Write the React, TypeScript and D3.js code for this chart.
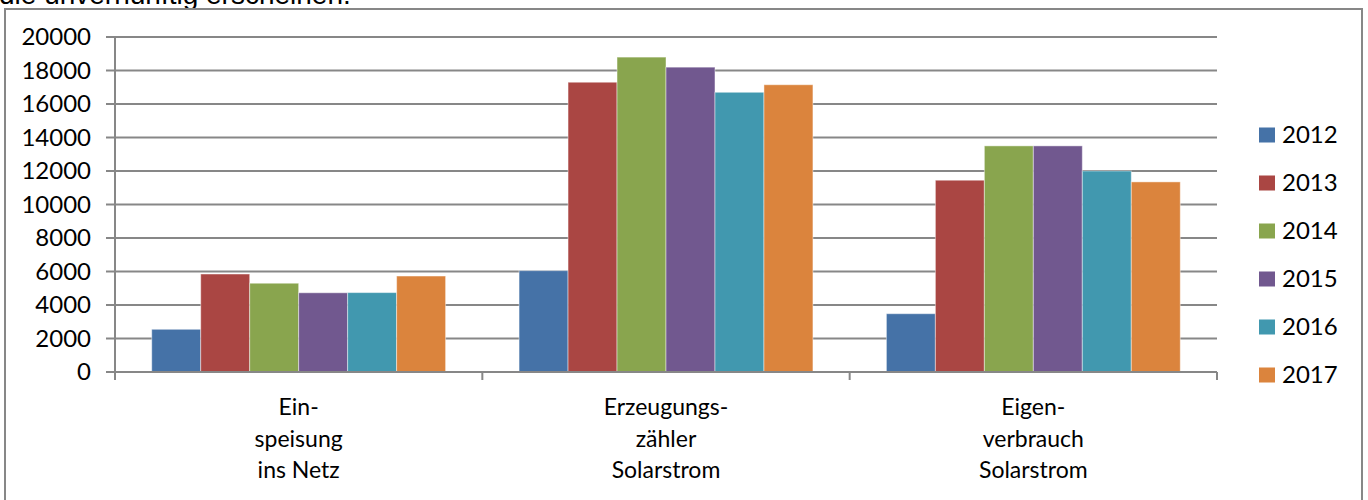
import React from "react";
import * as d3 from "d3";

// categories (multi-line labels as shown under the axis)
const categories = ["Einspeisung ins Netz", "Erzeugungszähler Solarstrom", "Eigenverbrauch Solarstrom"];
const categoryLines = [
  ["Ein-", "speisung", "ins Netz"],
  ["Erzeugungs-", "zähler", "Solarstrom"],
  ["Eigen-", "verbrauch", "Solarstrom"],
];

const years = ["2012", "2013", "2014", "2015", "2016", "2017"];

// values per year, one entry per category
const v2012 = [2550, 6050, 3480];
const v2013 = [5850, 17300, 11450];
const v2014 = [5300, 18800, 13500];
const v2015 = [4730, 18200, 13500];
const v2016 = [4740, 16700, 12000];
const v2017 = [5730, 17150, 11350];

const seriesValues = [v2012, v2013, v2014, v2015, v2016, v2017];
const colors = ["#4572A7", "#AA4643", "#89A54E", "#71588F", "#4198AF", "#DB843D"];
const yTicks = [0, 2000, 4000, 6000, 8000, 10000, 12000, 14000, 16000, 18000, 20000];

const FONT = "Lato, 'Liberation Sans', sans-serif";
const GRID = "#878787";

const App: React.FC = () => {
  const width = 1368;
  const height = 500;

  const left = 115;
  const right = 1217;
  const top = 37;
  const bottom = 372;

  const x0 = d3.scaleBand<string>().domain(categories).range([left, right]).padding(0);
  const x1 = d3
    .scaleBand<string>()
    .domain(years)
    .range([0, x0.bandwidth()])
    .paddingInner(0)
    .paddingOuter(0.75);
  const y = d3.scaleLinear().domain([0, 20000]).range([bottom, top]);

  const boundaries = [...categories.map((c) => x0(c) as number), right];

  return (
    <div style={{ position: "absolute", left: 0, top: 0 }}>
      <svg width={width} height={height} style={{ display: "block", background: "#fff" }}>
        {/* bottom of the paragraph text above the chart */}
        <text x={-1} y={4} fontFamily="'Liberation Sans', Arial, sans-serif" fontSize={28} fill="#000">
          die unvernünftig erscheinen.
        </text>

        {/* chart frame */}
        <rect x={5} y={9} width={1357} height={520} fill="#fff" stroke={GRID} strokeWidth={2} />

        {/* gridlines */}
        {yTicks.map((t) => (
          <line key={"g" + t} x1={left} x2={right} y1={y(t)} y2={y(t)} stroke={GRID} strokeWidth={2} />
        ))}

        {/* bars */}
        {categories.map((c, ci) => (
          <g key={c} transform={`translate(${x0(c)},0)`}>
            {years.map((yr, si) => (
              <rect
                key={yr}
                x={x1(yr)}
                y={y(seriesValues[si][ci])}
                width={x1.bandwidth()}
                height={bottom - y(seriesValues[si][ci])}
                fill={colors[si]}
                stroke="rgba(255,255,255,0.45)"
                strokeWidth={1}
              />
            ))}
          </g>
        ))}

        {/* y axis */}
        <line x1={left} x2={left} y1={top} y2={bottom} stroke={GRID} strokeWidth={2} />
        {yTicks.map((t) => (
          <g key={"t" + t}>
            <line x1={left - 9} x2={left} y1={y(t)} y2={y(t)} stroke={GRID} strokeWidth={2} />
            <text
              x={91}
              y={y(t)}
              dy="0.35em"
              textAnchor="end"
              fontFamily={FONT}
              fontSize={24}
              fill="#000"
            >
              {t}
            </text>
          </g>
        ))}

        {/* x axis */}
        <line x1={left} x2={right} y1={bottom} y2={bottom} stroke={GRID} strokeWidth={2} />
        {boundaries.map((b, i) => (
          <line key={"xb" + i} x1={b} x2={b} y1={bottom} y2={bottom + 8} stroke={GRID} strokeWidth={2} />
        ))}
        {categories.map((c, ci) => (
          <text
            key={"cl" + c}
            x={(x0(c) as number) + x0.bandwidth() / 2}
            textAnchor="middle"
            fontFamily={FONT}
            fontSize={23}
            fill="#000"
          >
            {categoryLines[ci].map((line, li) => (
              <tspan key={li} x={(x0(c) as number) + x0.bandwidth() / 2} y={407 + li * 31.5} dy="0.35em">
                {line}
              </tspan>
            ))}
          </text>
        ))}

        {/* legend */}
        {years.map((yr, i) => (
          <g key={"lg" + yr} transform={`translate(1259,${135 + i * 48})`}>
            <rect x={0} y={-7.5} width={16} height={15} fill={colors[i]} />
            <text x={23} y={0} dy="0.35em" fontFamily={FONT} fontSize={24} fill="#000">
              {yr}
            </text>
          </g>
        ))}
      </svg>
    </div>
  );
};

export default App;
